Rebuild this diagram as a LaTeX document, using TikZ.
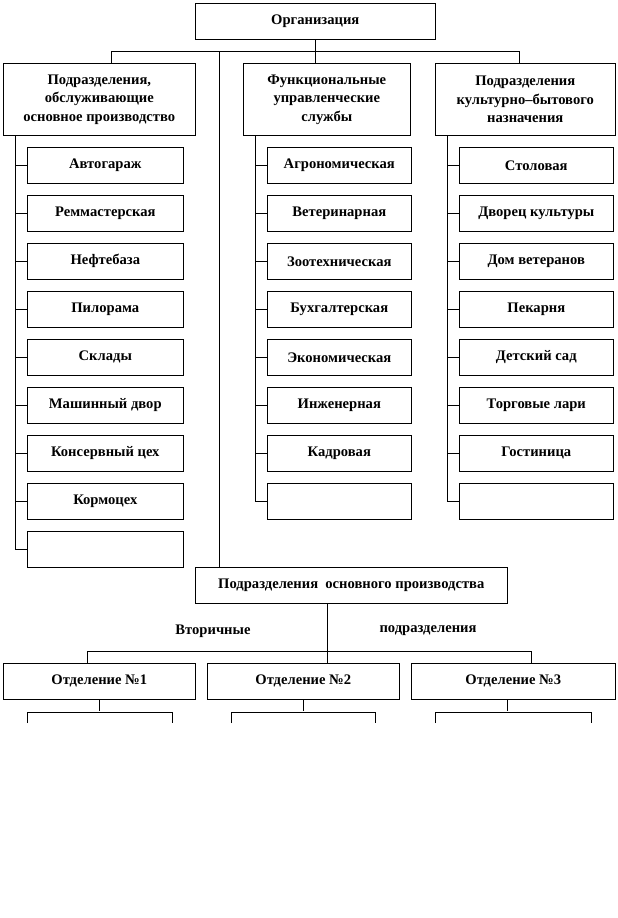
\documentclass[tikz,border=0pt]{standalone}
\usepackage{fontspec}
\setmainfont{Liberation Serif}
\usepackage{tikz}
\usetikzlibrary{positioning,calc}

\tikzset{
  unit/.style={draw, line width=0.6pt, anchor=north west, align=center, inner sep=0pt,
    font=\bfseries\fontsize{14.6}{18.5}\selectfont},
  link/.style={line width=0.6pt}
}

\begin{document}
\begin{tikzpicture}[x=1pt, y=-1pt]
  \useasboundingbox (0,0) rectangle (618,918);

  % Top
  \node[unit, minimum width=240, minimum height=36] (org) at (195,3) {Организация};
  \node[unit, minimum width=192, minimum height=72] (hdA) at (3,63)
    {Подразделения,\\обслуживающие\\основное производство};
  \node[unit, minimum width=167, minimum height=72] (hdB) at (243,63)
    {Функциональные\\управленческие\\службы};
  \node[unit, minimum width=180, minimum height=72] (hdC) at (435,63)
    {Подразделения\\культурно--бытового\\назначения};

  \coordinate (busA) at (111,51);
  \coordinate (busM) at (219,51);
  \coordinate (busC) at (519,51);
  \draw[link] (org.south) -- (org.south |- hdB.north);
  \draw[link] (busA |- hdA.north) -- (busA) -- (busC) -- (busC |- hdC.north);

  % Left column
  \coordinate (spA) at (15,0);
  \foreach \txt [count=\i from 0] in {Автогараж, Реммастерская, Нефтебаза, Пилорама,
      Склады, Машинный двор, Консервный цех, Кормоцех, {}} {
    \node[unit, minimum width=156, minimum height=36] (a\i) at (27,147+48*\i) {\txt};
    \draw[link] (spA |- a\i.west) -- (a\i.west);
  }
  \draw[link] (spA |- hdA.south) -- (spA |- a8.west);

  % Middle column
  \coordinate (spB) at (255,0);
  \foreach \txt [count=\i from 0] in {Агрономическая, Ветеринарная, Зоотехническая,
      Бухгалтерская, Экономическая, Инженерная, Кадровая, {}} {
    \node[unit, minimum width=144, minimum height=36] (b\i) at (267,147+48*\i) {\txt};
    \draw[link] (spB |- b\i.west) -- (b\i.west);
  }
  \draw[link] (spB |- hdB.south) -- (spB |- b7.west);

  % Right column
  \coordinate (spC) at (447,0);
  \foreach \txt [count=\i from 0] in {Столовая, Дворец культуры, Дом ветеранов, Пекарня,
      Детский сад, Торговые лари, Гостиница, {}} {
    \node[unit, minimum width=154, minimum height=36] (c\i) at (459,147+48*\i) {\txt};
    \draw[link] (spC |- c\i.west) -- (c\i.west);
  }
  \draw[link] (spC |- hdC.south) -- (spC |- c7.west);

  % Main production
  \node[unit, minimum width=312, minimum height=36] (main) at (195,567)
    {Подразделения\ \ основного производства};
  \draw[link] (busM) -- (busM |- main.north);

  \node[unit, minimum width=192, minimum height=36] (dep1) at (3,663) {Отделение №1};
  \node[unit, minimum width=192, minimum height=36] (dep2) at (207,663) {Отделение №2};
  \node[unit, minimum width=204, minimum height=36] (dep3) at (411,663) {Отделение №3};

  \node[font=\bfseries\fontsize{14.6}{18.5}\selectfont] (lblL) at (213,631) {Вторичные};
  \node[font=\bfseries\fontsize{14.6}{18.5}\selectfont] (lblR) at (428,631) {подразделения};

  \coordinate (sub) at (327,651);
  \coordinate (subL) at (87,651);
  \coordinate (subR) at (531,651);
  \draw[link] (sub |- main.south) -- (sub |- dep2.north);
  \draw[link] (subL |- dep1.north) -- (subL) -- (subR) -- (subR |- dep3.north);

  % Sections below
  \foreach \d/\m/\l/\r in {dep1/99/27/172, dep2/303/231/375, dep3/507/435/591} {
    \coordinate (\d m) at (\m,712);
    \coordinate (\d l) at (\l,712);
    \coordinate (\d r) at (\r,712);
    \draw[link] (\d m |- \d.south) -- ++(0,11);
    \draw[link] ($(\d l)+(0,11)$) -- (\d l) -- (\d r) -- ++(0,11);
  }
\end{tikzpicture}
\end{document}
